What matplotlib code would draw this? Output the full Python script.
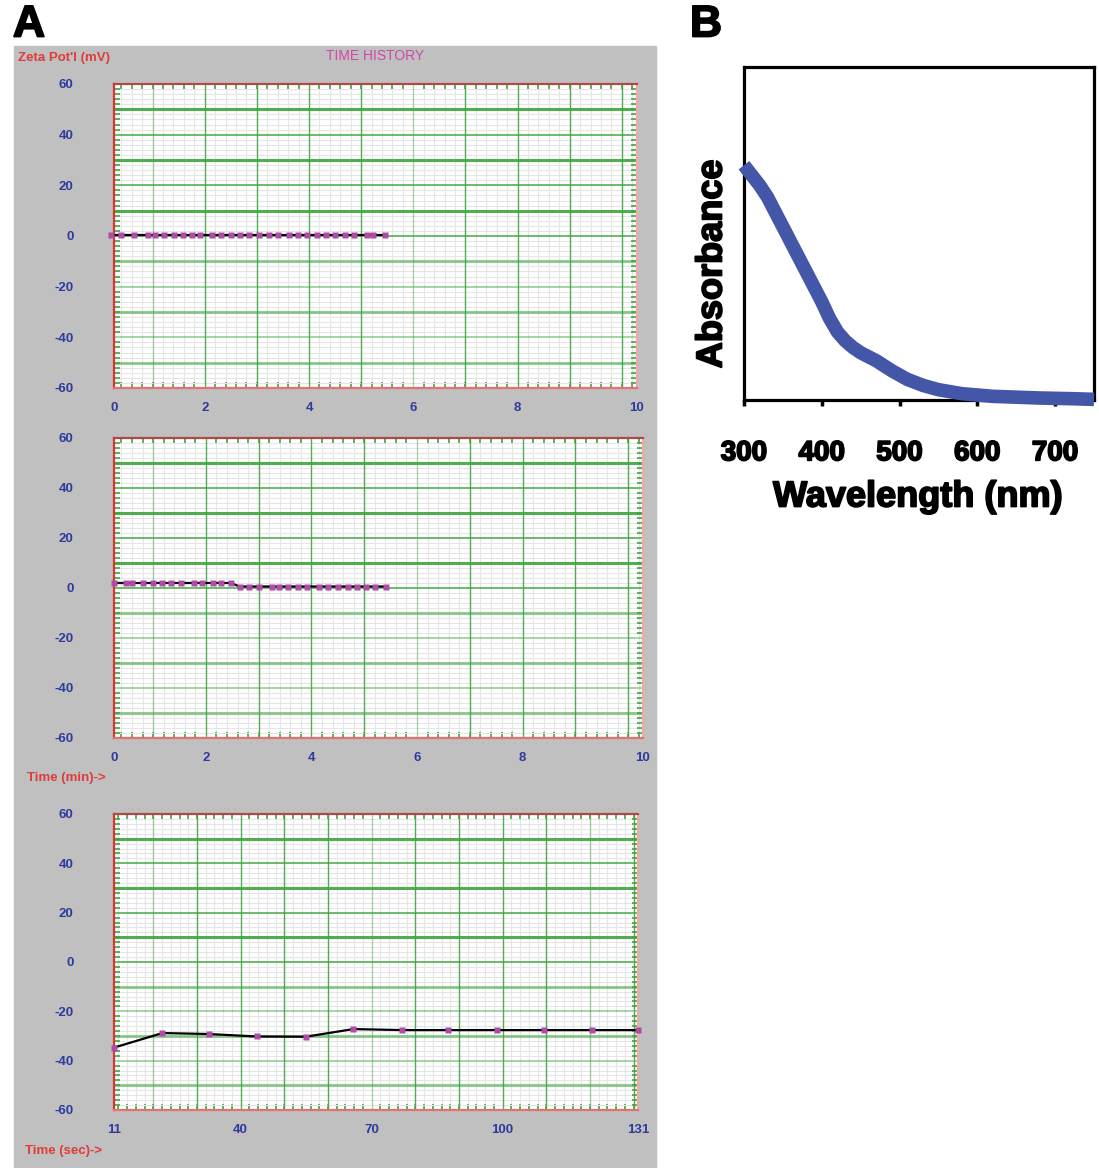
import numpy as np
import matplotlib
matplotlib.use('Agg')
import matplotlib.pyplot as plt
import matplotlib.patheffects as pe
from matplotlib.patches import Rectangle
from matplotlib.ticker import MultipleLocator

plt.rcParams['axes.unicode_minus'] = False

W, H = 1099, 1168

# ---- data: zeta potential time histories (panel A) ----
p1_time = [0.20, 0.39, 0.65, 0.92, 1.04, 1.22, 1.42, 1.59, 1.75, 1.91, 2.13, 2.32,
           2.50, 2.68, 2.84, 3.05, 3.23, 3.40, 3.61, 3.79, 3.96, 4.15, 4.33, 4.50,
           4.69, 4.87, 5.11, 5.23, 5.45]
p1_zeta = [0.5] * len(p1_time)

p2_time = [0.26, 0.48, 0.60, 0.80, 0.99, 1.16, 1.34, 1.52, 1.77, 1.92, 2.13, 2.28,
           2.47, 2.64, 2.81, 3.00, 3.25, 3.39, 3.56, 3.75, 3.92, 4.15, 4.31, 4.51,
           4.69, 4.86, 5.04, 5.20, 5.42]
p2_zeta = [2.0] * 13 + [0.6] * 16

p3_time = [11, 22.1, 32.7, 43.7, 54.9, 65.8, 76.9, 87.6, 98.7, 109.4, 120.5, 131]
p3_zeta = [-34.7, -28.8, -29.2, -30.2, -30.3, -27.2, -27.6, -27.6, -27.6, -27.6, -27.6, -27.6]

min_tick_pos = [0.26, 2, 4, 6, 8, 10.28]
min_tick_lab = ['0', '2', '4', '6', '8', '10']
sec_tick_pos = [11, 40, 70, 100, 131]
sec_tick_lab = ['11', '40', '70', '100', '131']
zeta_ticks = [-60, -40, -20, 0, 20, 40, 60]

# ---- data: UV-vis spectrum (panel B) ----
wavelength = [300, 310, 320, 330, 340, 350, 360, 370, 380, 390, 400, 410, 420, 430,
              440, 450, 470, 490, 510, 530, 550, 580, 620, 680, 720, 750]
absorbance = [0.705, 0.675, 0.645, 0.61, 0.565, 0.52, 0.475, 0.43, 0.385, 0.34, 0.295,
              0.245, 0.205, 0.178, 0.158, 0.142, 0.118, 0.088, 0.062, 0.044, 0.031,
              0.019, 0.011, 0.006, 0.004, 0.002]

GRAY = '#c0c0c0'
GREEN = '#3ea63e'
MAG = '#b04ca8'
BLUE = '#2e3a9c'
NARROW = ['Liberation Sans Narrow', 'Liberation Sans', 'DejaVu Sans']
SANS = ['Liberation Sans', 'DejaVu Sans']
HEAVY = [pe.withStroke(linewidth=1.3, foreground='black')]


def box(l, t, r, b):
    return [l / W, 1 - b / H, (r - l) / W, (b - t) / H]


fig = plt.figure(figsize=(W / 100, H / 100), dpi=100)
fig.patch.set_facecolor('white')
fig.add_artist(Rectangle((14 / W, 0), (656 - 14) / W, 1 - 46 / H,
                         transform=fig.transFigure, color=GRAY, zorder=0))


def scope_panel(rect, xlim, xminor, vlines, t, z, tpos, tlab):
    ax = fig.add_axes(box(*rect))
    ax.set_facecolor('white')
    ax.set_xlim(*xlim)
    ax.set_ylim(-60, 60)
    ax.xaxis.set_minor_locator(MultipleLocator(xminor))
    ax.yaxis.set_minor_locator(MultipleLocator(2))
    ax.grid(which='minor', color='#e6e6e6', lw=0.8)
    ax.set_axisbelow(True)
    for i, v in enumerate(vlines):
        ax.axvline(v, color=GREEN, lw=1.0, alpha=0.45 if i % 5 == 0 else 0.9, zorder=1)
    for h in range(-50, 60, 10):
        ax.axhline(h, color=GREEN, lw=2.2 if h % 20 else 1.2,
                   alpha=0.9 if h >= 0 else 0.55, zorder=1)
    ax.plot(t, z, color='black', lw=1.6, zorder=3)
    ax.plot(t, z, 's', color=MAG, ms=4.5, mec='none', zorder=4, clip_on=False)
    ax.set_xticks(tpos, labels=tlab)
    ax.set_yticks(zeta_ticks)
    ax.tick_params(which='major', length=0, labelcolor=BLUE, labelsize=9.5)
    ax.tick_params(axis='x', which='major', pad=10)
    ax.tick_params(axis='y', which='major', pad=29)
    ax.tick_params(which='minor', direction='in', length=4, width=1.2, color=GREEN,
                   top=True, right=True)
    for lab in ax.get_xticklabels() + ax.get_yticklabels():
        lab.set_fontfamily(NARROW)
        lab.set_fontweight('bold')
    ax.spines['left'].set_color('#e03030')
    ax.spines['bottom'].set_color('#e87070')
    ax.spines['top'].set_color('#b04848')
    ax.spines['right'].set_color('#f0a8a8')
    for s in ax.spines.values():
        s.set_linewidth(1.6)
    return ax


scope_panel((114, 84, 637, 388), (0.26, 10.29), 0.2, range(1, 11),
            p1_time, p1_zeta, min_tick_pos, min_tick_lab)
scope_panel((114, 438, 643, 738), (0.26, 10.28), 0.2, range(1, 11),
            p2_time, p2_zeta, min_tick_pos, min_tick_lab)
scope_panel((114, 814, 638, 1110), (11, 131), 2, range(20, 131, 10),
            p3_time, p3_zeta, sec_tick_pos, sec_tick_lab)

fig.text(18 / W, 1 - 58 / H, "Zeta Pot'l (mV)", color='#e03a3a', fontsize=9.5,
         fontweight='bold', family=NARROW, ha='left', va='center')
fig.text(375 / W, 1 - 56 / H, 'TIME HISTORY', color='#d048a8', fontsize=10,
         family=NARROW, ha='center', va='center')
fig.text(27 / W, 1 - 778 / H, 'Time (min)->', color='#e03a3a', fontsize=9.5,
         fontweight='bold', family=NARROW, ha='left', va='center')
fig.text(25 / W, 1 - 1151 / H, 'Time (sec)->', color='#e03a3a', fontsize=9.5,
         fontweight='bold', family=NARROW, ha='left', va='center')

# ---- panel B ----
axB = fig.add_axes(box(744, 67, 1094, 400))
axB.plot(wavelength, absorbance, color='#4356a8', lw=9.8, clip_on=False,
         solid_capstyle='butt', solid_joinstyle='round', zorder=3)
axB.set_xlim(300, 750)
axB.set_ylim(0, 1)
axB.set_xticks([300, 400, 500, 600, 700])
axB.set_yticks([])
axB.tick_params(axis='x', direction='out', length=4, width=2.5, pad=25, labelsize=20)
for lab in axB.get_xticklabels():
    lab.set_fontfamily(SANS)
    lab.set_fontweight('bold')
    lab.set_path_effects(HEAVY)
for s in axB.spines.values():
    s.set_linewidth(2.3)
    s.set_color('black')

fig.text(918 / W, 1 - 497 / H, 'Wavelength (nm)', fontsize=26, fontweight='bold',
         family=SANS, ha='center', va='center', path_effects=HEAVY)
fig.text(712 / W, 1 - 264 / H, 'Absorbance', fontsize=26, fontweight='bold',
         family=SANS, ha='center', va='center', rotation=90, path_effects=HEAVY)

fig.text(29 / W, 1 - 25 / H, 'A', fontsize=32, fontweight='bold',
         family=SANS, ha='center', va='center', path_effects=HEAVY)
fig.text(706 / W, 1 - 25 / H, 'B', fontsize=32, fontweight='bold',
         family=SANS, ha='center', va='center', path_effects=HEAVY)

fig.savefig('out.png', dpi=100)
